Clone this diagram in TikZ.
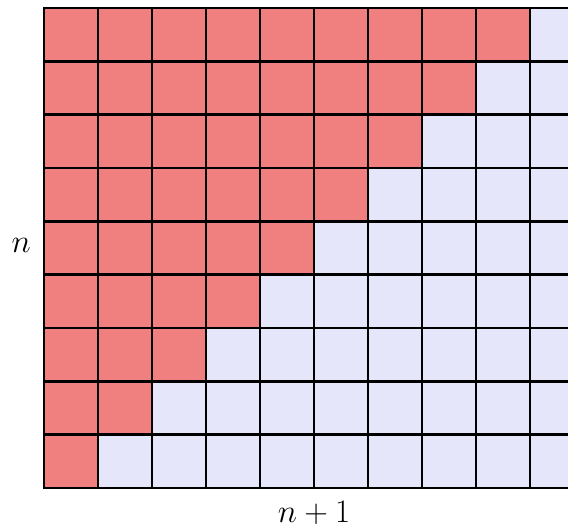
\documentclass[tikz,border=0pt]{standalone}
\usepackage{tikz}
\usetikzlibrary{positioning}
\definecolor{cellred}{RGB}{240,128,128}
\definecolor{cellblue}{RGB}{230,230,250}
\tikzset{
  redcell/.style={fill=cellred},
  bluecell/.style={fill=cellblue},
  gridline/.style={line width=1.5pt, draw=black, line cap=rect},
  lbl/.style={font=\LARGE, inner sep=0pt},
}
\begin{document}
\begin{tikzpicture}[x=1cm,y=0.9877cm]
  \useasboundingbox (-0.815,-0.75) rectangle (9.704,9.15);
  \begin{scope}
    \clip (-0.815,-0.75) rectangle (9.704,9.15);
    % cells: row r has r+1 red squares
    \foreach \r in {0,...,8}{
      \foreach \c in {0,...,9}{
        \pgfmathtruncatemacro{\isred}{\c<=\r ? 1 : 0}
        \ifnum\isred=1
          \fill[redcell] (\c,\r) rectangle ++(1,1);
        \else
          \fill[bluecell] (\c,\r) rectangle ++(1,1);
        \fi
      }
    }
    \foreach \c in {0,...,10}{\draw[gridline] (\c,0) -- (\c,9);}
    \foreach \r in {0,...,9}{\draw[gridline] (0,\r) -- (10,\r);}
  \end{scope}
  \node[lbl] (rows) at (-0.42,4.55) {$n$};
  \node[lbl,anchor=base] (cols) at (5,-0.64) {$n+1$};
\end{tikzpicture}
\end{document}
